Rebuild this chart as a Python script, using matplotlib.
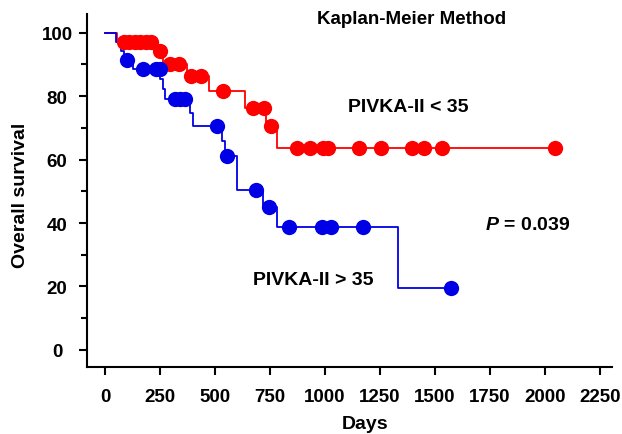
import matplotlib
matplotlib.use('Agg')
import matplotlib.pyplot as plt
from matplotlib.ticker import MultipleLocator

# ── Kaplan-Meier data ────────────────────────────────────────────────────
# PIVKA-II < 35 (red): event times and survival after each step
low_event_days = [0, 55, 227, 265, 371, 472, 635, 730, 782]
low_event_surv = [100, 97.2, 94.2, 90.2, 86.3, 81.6, 76.3, 70.5, 63.7]
low_cens_days = [85, 110, 135, 160, 185, 210, 250, 295, 335, 390, 438, 535,
                 674, 723, 753, 873, 932, 990, 1014, 1155, 1255, 1395, 1450,
                 1532, 2045]

# PIVKA-II > 35 (blue)
high_event_days = [0, 50, 72, 85, 129, 252, 262, 272, 386, 401, 530, 545,
                   598, 718, 780, 1330]
high_event_surv = [100, 97.1, 94.3, 91.4, 88.6, 85.4, 82.2, 79.0, 74.6, 70.6,
                   65.8, 61.0, 50.5, 45.0, 38.7, 19.4]
high_cens_days = [98, 173, 232, 248, 318, 343, 365, 510, 553, 685, 745, 836,
                  985, 1026, 1171, 1573]

x_ticks = [0, 250, 500, 750, 1000, 1250, 1500, 1750, 2000, 2250]
y_ticks = [0, 20, 40, 60, 80, 100]

RED = '#ff0000'
BLUE = '#0000e6'


def surv_at(days, surv, t):
    s = surv[0]
    for d, v in zip(days, surv):
        if d <= t:
            s = v
    return s


def draw_km(ax, ev_days, ev_surv, cens_days, color):
    end = max(cens_days + ev_days)
    xs = list(ev_days) + [end]
    ys = list(ev_surv) + [ev_surv[-1]]
    ax.step(xs, ys, where='post', color=color, linewidth=1.3, zorder=2)
    cy = [surv_at(ev_days, ev_surv, t) for t in cens_days]
    ax.plot(cens_days, cy, 'o', color=color, markersize=11,
            markeredgewidth=0, zorder=3)


plt.rcParams['font.family'] = ['Liberation Sans', 'DejaVu Sans']
plt.rcParams['font.weight'] = 'bold'
plt.rcParams['mathtext.fontset'] = 'custom'
plt.rcParams['mathtext.it'] = 'Liberation Sans:bold:italic'
plt.rcParams['mathtext.rm'] = 'Liberation Sans:bold'

fig = plt.figure(figsize=(6.22, 4.35), dpi=100)
ax = fig.add_axes([0.1399, 0.1533, 0.844, 0.8122])

draw_km(ax, low_event_days, low_event_surv, low_cens_days, RED)
draw_km(ax, high_event_days, high_event_surv, high_cens_days, BLUE)

ax.set_xlim(-82, 2305)
ax.set_ylim(-5.5, 105.9)
ax.set_xticks(x_ticks)
ax.set_yticks(y_ticks)
ax.yaxis.set_minor_locator(MultipleLocator(10))

for side in ['top', 'right']:
    ax.spines[side].set_visible(False)
for side in ['left', 'bottom']:
    ax.spines[side].set_linewidth(1.5)

ax.tick_params(axis='both', which='major', direction='out', length=6,
               width=1.5, labelsize=13.5)
ax.tick_params(axis='x', which='major', pad=9)
ax.tick_params(axis='y', which='major', pad=15.5)
ax.tick_params(axis='y', which='minor', direction='out', length=4.5, width=1.5)
for lab in ax.get_xticklabels() + ax.get_yticklabels():
    lab.set_fontweight('bold')
for lab in ax.get_yticklabels():
    lab.set_horizontalalignment('center')

ax.set_xlabel('Days', fontsize=14, fontweight='bold', va='center')
ax.xaxis.set_label_coords(0.53, -0.158)
ax.set_ylabel('Overall survival', fontsize=14, fontweight='bold', va='center')
ax.yaxis.set_label_coords(-0.1276, 0.49)

ax.text(1395, 104.5, 'Kaplan-Meier Method', ha='center', va='center',
        fontsize=13.5, fontweight='bold')
ax.text(1377, 76.7, 'PIVKA-II < 35', ha='center', va='center',
        fontsize=14, fontweight='bold')
ax.text(947, 22.3, 'PIVKA-II > 35', ha='center', va='center',
        fontsize=14, fontweight='bold')
ax.text(1923, 39.4, r'$P$ = 0.039', ha='center', va='center',
        fontsize=14, fontweight='bold')

fig.savefig('out.png', dpi=100)
